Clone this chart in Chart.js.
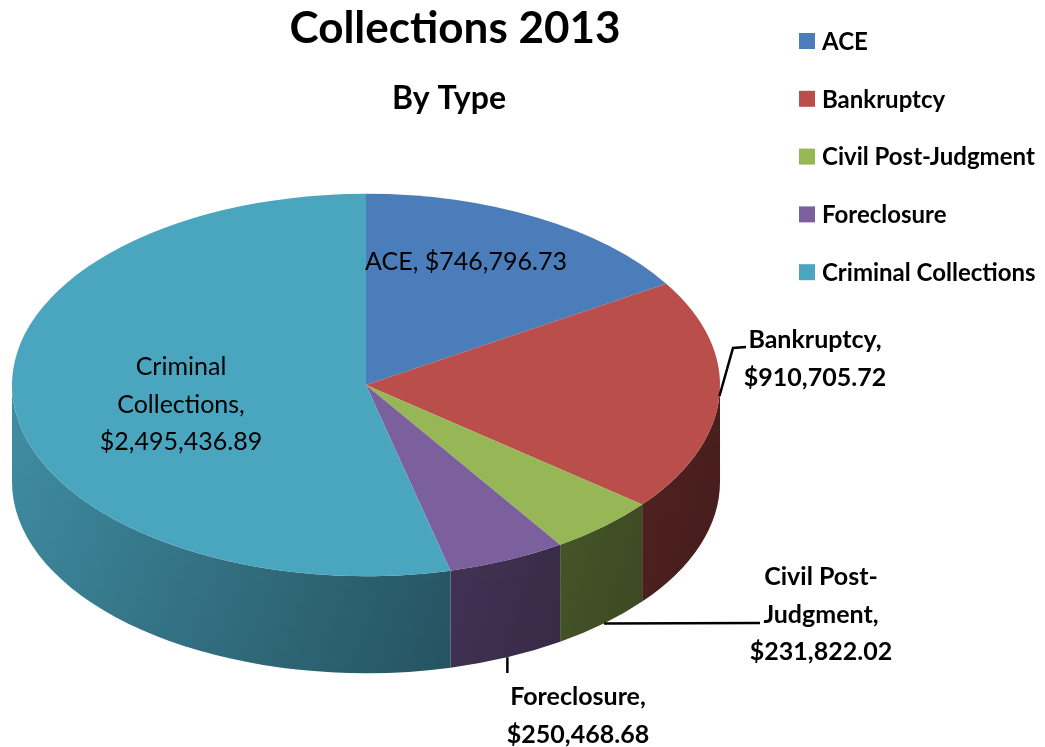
<!DOCTYPE html>
<html>
<head>
<meta charset="utf-8">
<title>Collections 2013</title>
<script src="https://cdn.jsdelivr.net/npm/chart.js@4.4.0/dist/chart.umd.min.js"></script>
<style>
  body { margin: 0; background: #fff; }
  #wrap { position: relative; width: 1045px; height: 747px; }
</style>
</head>
<body>
<div id="wrap"><canvas id="pie"></canvas></div>
<script>
const categories = ['ACE', 'Bankruptcy', 'Civil Post-Judgment', 'Foreclosure', 'Criminal Collections'];
const amounts = [746796.73, 910705.72, 231822.02, 250468.68, 2495436.89];
const sliceColors = ['#4a7db9', '#b94e4a', '#97b757', '#7c5f9d', '#4aa5bf'];

// how each category name is broken over lines in its data label (null = one line with the value)
const labelWrap = [null, ['Bankruptcy'], ['Civil Post-', 'Judgment'], ['Foreclosure'], ['Criminal', 'Collections']];

const TILT = 0.54;   // vertical squash of the pie top
const DEPTH = 97;    // thickness of the pie in px
const FONT = 'Lato, "Open Sans", sans-serif';

// where the data labels sit; leader lines start on the slice rim
const labelLayout = [
  { x: 466, y: 262, bold: false },
  { x: 815, y: 340, bold: true, rim: 0, leader: [[733, 348], [746, 347]] },
  { x: 821, y: 577, bold: true, rim: DEPTH, leader: [[760, 623]] },
  { x: 578, y: 697, bold: true, rim: DEPTH, drop: 673 },
  { x: 181, y: 367, bold: false }
];

// wall brightness from the left edge (0) to the right edge (1) of the pie
const wallLight = [[0, 0.86], [0.63, 0.56], [0.85, 0.45], [1, 0.40]];

function money(v) {
  return '$' + v.toLocaleString('en-US', { minimumFractionDigits: 2, maximumFractionDigits: 2 });
}

function labelFor(i) {
  const m = money(amounts[i]);
  if (!labelWrap[i]) return [categories[i] + ', ' + m];
  const lines = labelWrap[i].slice();
  lines[lines.length - 1] += ',';
  return lines.concat(m);
}

function shade(hex, f) {
  const n = parseInt(hex.slice(1), 16);
  const r = Math.round(((n >> 16) & 255) * f);
  const g = Math.round(((n >> 8) & 255) * f);
  const b = Math.round((n & 255) * f);
  return 'rgb(' + r + ',' + g + ',' + b + ')';
}

// draws the pie walls, then squashes the slices Chart.js draws on top
const pie3d = {
  id: 'pie3d',
  beforeDatasetsDraw(chart) {
    const ctx = chart.ctx;
    const meta = chart.getDatasetMeta(0);
    const { x, y, outerRadius } = meta.data[0].getProps(['x', 'y', 'outerRadius'], true);
    const ry = outerRadius * TILT;

    meta.data.forEach((arc, i) => {
      const p = arc.getProps(['startAngle', 'endAngle'], true);
      // only the front half of the rim (0..PI) is visible
      for (let k = -1; k <= 1; k++) {
        const lo = Math.max(p.startAngle, k * 2 * Math.PI);
        const hi = Math.min(p.endAngle, k * 2 * Math.PI + Math.PI);
        if (hi <= lo) continue;
        const a = lo - k * 2 * Math.PI, b = hi - k * 2 * Math.PI;
        ctx.beginPath();
        ctx.ellipse(x, y, outerRadius, ry, 0, a, b, false);
        ctx.ellipse(x, y + DEPTH, outerRadius, ry, 0, b, a, true);
        ctx.closePath();
        const grad = ctx.createLinearGradient(x - outerRadius, 0, x + outerRadius, 0);
        wallLight.forEach(s => grad.addColorStop(s[0], shade(sliceColors[i], s[1])));
        ctx.fillStyle = grad;
        ctx.fill();
        const dark = ctx.createLinearGradient(0, y, 0, y + ry + DEPTH);
        dark.addColorStop(0, 'rgba(0,0,0,0)');
        dark.addColorStop(1, 'rgba(0,0,0,0.1)');
        ctx.fillStyle = dark;
        ctx.fill();
      }
    });

    ctx.save();
    ctx.translate(x, y);
    ctx.scale(1, TILT);
    ctx.translate(-x, -y);
  },
  afterDatasetsDraw(chart) {
    chart.ctx.restore();
  },
  afterDraw(chart) {
    const ctx = chart.ctx;
    const meta = chart.getDatasetMeta(0);
    const ds = chart.data.datasets[0];
    ctx.save();
    ctx.fillStyle = '#000';
    ctx.textAlign = 'center';
    ctx.textBaseline = 'middle';

    // title
    ctx.font = 'bold 44px ' + FONT;
    ctx.fillText('Collections 2013', 455, 29);
    ctx.font = 'bold 32px ' + FONT;
    ctx.fillText('By Type', 449, 99);

    // legend
    ctx.textAlign = 'left';
    ctx.font = 'bold 24px ' + FONT;
    chart.data.labels.forEach((lab, i) => {
      const ly = 41 + i * 57.8;
      ctx.fillStyle = ds.backgroundColor[i];
      ctx.fillRect(799, ly - 8, 16, 16);
      ctx.fillStyle = '#000';
      ctx.fillText(lab, 822, ly + 1);
    });

    // data labels
    ctx.textAlign = 'center';
    ctx.strokeStyle = '#000';
    ctx.lineWidth = 2.5;
    meta.data.forEach((arc, i) => {
      const L = labelLayout[i];
      const p = arc.getProps(['x', 'y', 'startAngle', 'endAngle', 'outerRadius'], true);
      if (L.rim !== undefined) {
        const mid = (p.startAngle + p.endAngle) / 2;
        const sx = p.x + p.outerRadius * Math.cos(mid);
        const sy = p.y + p.outerRadius * TILT * Math.sin(mid) + L.rim;
        ctx.beginPath();
        ctx.moveTo(sx, sy);
        if (L.drop) ctx.lineTo(sx, L.drop);
        (L.leader || []).forEach(pt => ctx.lineTo(pt[0], pt[1]));
        ctx.stroke();
      }
      ctx.font = (L.bold ? 'bold ' : '') + '25px ' + FONT;
      labelFor(i).forEach((line, j) => {
        ctx.fillText(line, L.x, L.y + j * 37.5);
      });
    });
    ctx.restore();
  }
};

const ctx = document.getElementById('pie').getContext('2d');
const chart = new Chart(ctx, {
  type: 'pie',
  data: {
    labels: categories,
    datasets: [{
      data: amounts,
      backgroundColor: sliceColors,
      borderWidth: 0
    }]
  },
  options: {
    responsive: true,
    maintainAspectRatio: false,
    animation: false,
    events: [],
    layout: { padding: { left: 12, right: 325, top: 31, bottom: 8 } },
    plugins: {
      legend: { display: false },
      tooltip: { enabled: false }
    }
  },
  plugins: [pie3d]
});
</script>
</body>
</html>
